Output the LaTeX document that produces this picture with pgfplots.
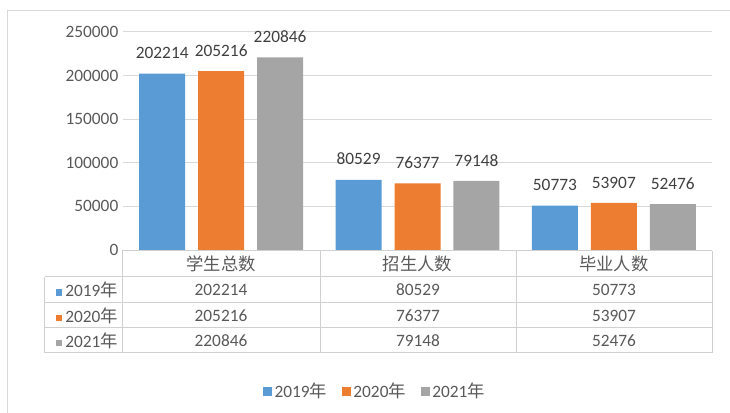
\documentclass[border=0pt]{standalone}
\usepackage{pgfplots}
\pgfplotsset{compat=1.18}
\usepackage{fontspec}
\setmainfont{Carlito}
\newfontfamily\cjk{Noto Sans CJK SC}
\definecolor{c19}{HTML}{5B9BD5}
\definecolor{c20}{HTML}{ED7D31}
\definecolor{c21}{HTML}{A5A5A5}
\definecolor{txt}{HTML}{595959}
\definecolor{lab}{HTML}{404040}
\definecolor{gridc}{HTML}{D9D9D9}
\definecolor{tblc}{HTML}{D0D0D0}
\newcommand{\fs}{\fontsize{13}{15}\selectfont}
\begin{document}
\begin{tikzpicture}
\begin{axis}[
  at={(0,0)}, anchor=south west,
  scale only axis, width=441.75pt, height=163.5pt,
  ybar=9.7pt, bar width=34.5pt,
  xmin=-0.5, xmax=2.5, ymin=0, ymax=250000,
  xtick={0,1,2},
  xticklabels={{\cjk 学生总数},{\cjk 招生人数},{\cjk 毕业人数}},
  xticklabel style={anchor=base, yshift=-15.4pt, font=\fs, text=txt},
  ytick={0,50000,100000,150000,200000,250000},
  scaled y ticks=false,
  /pgf/number format/fixed,
  /pgf/number format/1000 sep={},
  /pgf/number format/assume math mode=true,
  yticklabel style={font=\fs, text=txt},
  ymajorgrids,
  major grid style={draw=gridc, line width=0.75pt},
  axis line style={draw=none},
  major tick length=0pt,
  clip=false,
  nodes near coords,
  every node near coord/.append style={font=\fs, text=lab, anchor=south, yshift=7.5pt},
  legend style={at={(0.428,-0.647)}, anchor=center, draw=none, fill=none,
    legend columns=3, font=\fs, text=txt,
    /tikz/every even column/.append style={column sep=9pt}},
  legend image code/.code={\path[#1] (0pt,-3.4pt) rectangle (6.8pt,3.4pt);},
]
\addplot[fill=c19, draw=none] coordinates {(0,202214) (1,80529) (2,50773)};
\addplot[fill=c20, draw=none] coordinates {(0,205216) (1,76377) (2,53907)};
\addplot[fill=c21, draw=none] coordinates {(0,220846) (1,79148) (2,52476)};
\legend{2019{\cjk 年},2020{\cjk 年},2021{\cjk 年}}
\end{axis}
\begin{scope}[x=0.75pt, y=-0.75pt, shift={(-92.25pt,187.5pt)}]
  \draw[tblc, line width=0.75pt] (122,251) -- (712,251);
  \foreach \y in {277,303,328,353} \draw[tblc, line width=0.75pt] (45,\y) -- (712,\y);
  \draw[tblc, line width=0.75pt] (45,277) -- (45,353);
  \foreach \x in {122,320,516,712} \draw[tblc, line width=0.75pt] (\x,251) -- (\x,353);
  % row headers
  \node[anchor=east, font=\fs, text=txt, inner sep=0pt] at (118,290) {{\color{c19}\rule[0.5pt]{5pt}{5pt}}\,2019{\cjk 年}};
  \node[anchor=east, font=\fs, text=txt, inner sep=0pt] at (118,315.5) {{\color{c20}\rule[0.5pt]{5pt}{5pt}}\,2020{\cjk 年}};
  \node[anchor=east, font=\fs, text=txt, inner sep=0pt] at (118,340.5) {{\color{c21}\rule[0.5pt]{5pt}{5pt}}\,2021{\cjk 年}};
  % values
  \foreach \x/\a/\b/\c in {221/202214/205216/220846, 418/80529/76377/79148, 614/50773/53907/52476} {
    \node[font=\fs, text=txt] at (\x,290) {\a};
    \node[font=\fs, text=txt] at (\x,315.5) {\b};
    \node[font=\fs, text=txt] at (\x,340.5) {\c};
  }
  % outer frame
  \draw[gridc, line width=0.75pt] (8,413) -- (8,11) -- (730,11);
  \pgfresetboundingbox
  \path[use as bounding box] (0,0) rectangle (730,413);
\end{scope}
\end{tikzpicture}
\end{document}
